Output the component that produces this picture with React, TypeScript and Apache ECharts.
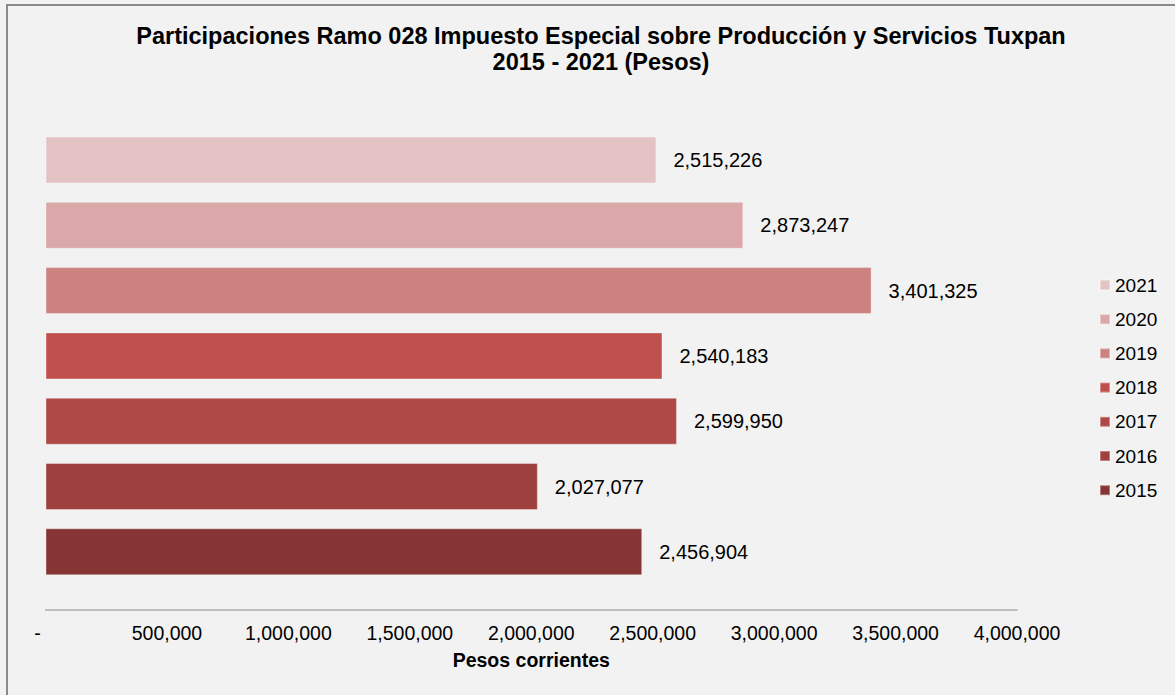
import React, { useEffect, useRef } from "react";
import * as echarts from "echarts";

const years = ["2015", "2016", "2017", "2018", "2019", "2020", "2021"];
const values = [2456904, 2027077, 2599950, 2540183, 3401325, 2873247, 2515226];
const colors = ["#873534", "#9E403E", "#AE4947", "#C0504E", "#CC8280", "#DAA8A9", "#E3C3C4"];
const xTicks = [0, 500000, 1000000, 1500000, 2000000, 2500000, 3000000, 3500000, 4000000];
const titleText = "Participaciones Ramo 028 Impuesto Especial sobre Producción y Servicios Tuxpan\n2015 - 2021 (Pesos)";
const xAxisName = "Pesos corrientes";

const FONT = "'Liberation Sans', Arial, sans-serif";
const fmt = (v: number) => (v === 0 ? "-" : v.toLocaleString("en-US"));

export default function App() {
  const ref = useRef<HTMLDivElement>(null);
  useEffect(() => {
    if (!ref.current) return;
    const chart = echarts.init(ref.current, null, { renderer: "svg" });
    const series = years.map((y, i) => ({
      name: y,
      type: "bar",
      stack: "total",
      barWidth: 47,
      data: years.map((_, j) => (j === i ? values[i] : null)),
      itemStyle: {
        color: colors[i],
        borderColor: "rgba(255,255,255,0.35)",
        borderWidth: 1,
      },
      label: {
        show: true,
        position: "right",
        distance: 17,
        fontFamily: FONT,
        fontSize: 20,
        color: "#000",
        formatter: (p: any) => fmt(p.value),
      },
    }));
    chart.setOption({
      animation: false,
      backgroundColor: "#F2F2F2",
      textStyle: { fontFamily: FONT },
      graphic: [
        {
          type: "rect",
          shape: { x: 7, y: 5, width: 1300, height: 800 },
          style: { fill: "none", stroke: "#8A8A8A", lineWidth: 2 },
          silent: true,
        },
      ],
      title: {
        text: titleText,
        left: 596,
        top: 17.5,
        textAlign: "center",
        textStyle: {
          fontFamily: FONT,
          fontSize: 23.5,
          fontWeight: "bold",
          lineHeight: 26,
          color: "#000",
        },
      },
      legend: {
        orient: "vertical",
        left: 1099,
        top: 275,
        padding: 0,
        itemWidth: 10,
        itemHeight: 10,
        itemGap: 14.2,
        icon: "rect",
        data: [...years].reverse(),
        textStyle: { fontFamily: FONT, fontSize: 19, color: "#000", lineHeight: 20 },
      },
      grid: { left: 45.5, width: 971.5, top: 127.35, height: 457.1, containLabel: false },
      xAxis: {
        type: "value",
        min: 0,
        max: xTicks[xTicks.length - 1],
        interval: xTicks[1] - xTicks[0],
        offset: 25.5,
        name: xAxisName,
        nameLocation: "middle",
        nameGap: 40,
        nameTextStyle: { fontFamily: FONT, fontSize: 19.5, fontWeight: "bold", color: "#000" },
        axisLine: { show: true, lineStyle: { color: "#ADADAD", width: 1.5 } },
        axisTick: { show: false },
        splitLine: { show: false },
        axisLabel: {
          margin: 12.75,
          fontFamily: FONT,
          fontSize: 19.5,
          color: "#000",
          formatter: (v: number) => (v === 0 ? "{d|-}" : fmt(v)),
          rich: {
            d: { fontFamily: FONT, fontSize: 19.5, color: "#000", padding: [0, 16, 0, 0] },
          },
        },
      },
      yAxis: {
        type: "category",
        data: years,
        axisLine: { show: false },
        axisTick: { show: false },
        axisLabel: { show: false },
        splitLine: { show: false },
      },
      series,
    });
    return () => chart.dispose();
  }, []);
  return (
    <div
      ref={ref}
      style={{ position: "absolute", left: 0, top: 0, width: 1175, height: 695 }}
    />
  );
}
